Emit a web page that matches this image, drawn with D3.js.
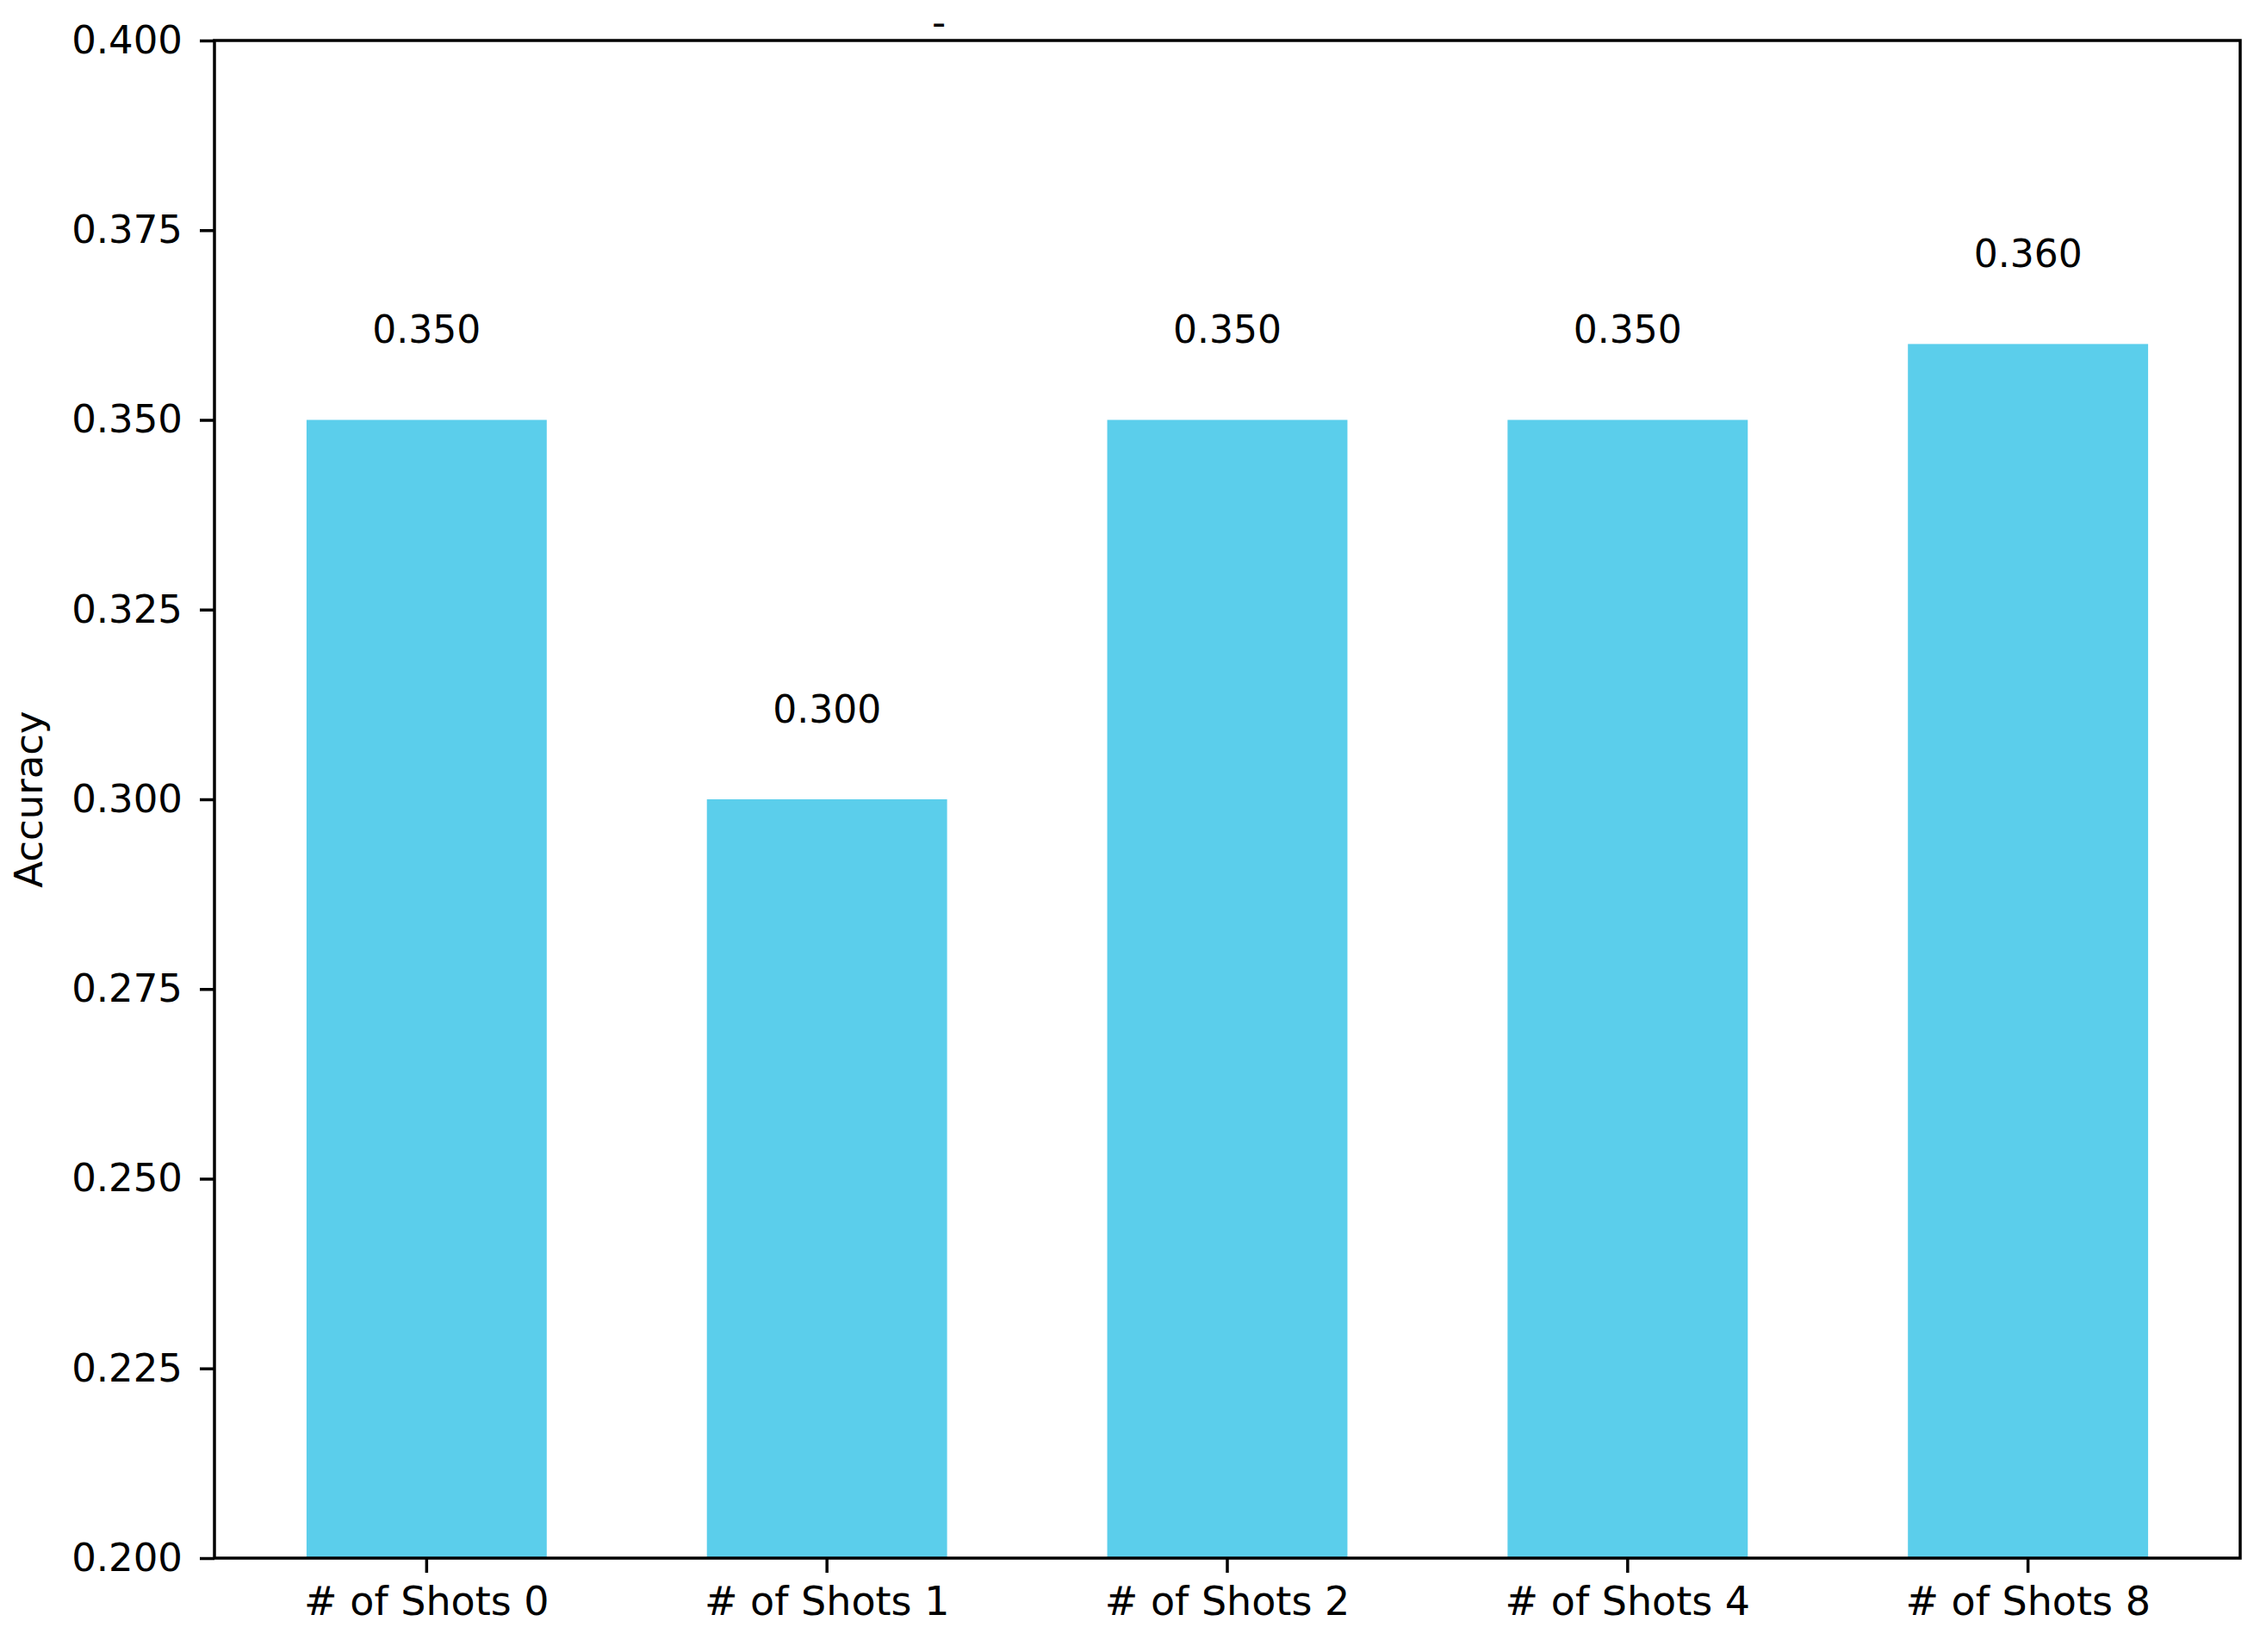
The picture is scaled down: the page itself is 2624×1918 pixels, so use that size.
<!DOCTYPE html>
<html>
<head>
<meta charset="utf-8">
<script src="https://cdn.jsdelivr.net/npm/d3@7"></script>
<style>
  html, body { margin: 0; padding: 0; background: #fff; }
  svg { display: block; font-family: "DejaVu Sans", sans-serif; }
</style>
</head>
<body>
<svg id="chart" width="2624" height="1918"></svg>
<script>
const categories = ["# of Shots 0", "# of Shots 1", "# of Shots 2", "# of Shots 4", "# of Shots 8"];
const accuracy = [0.350, 0.300, 0.350, 0.350, 0.360];
const yTicks = [0.200, 0.225, 0.250, 0.275, 0.300, 0.325, 0.350, 0.375, 0.400];
const yDomain = [0.2, 0.4];
const yLabel = "Accuracy";
const titleText = "-";

(function () {
const svg = d3.select("#chart");
const mLeft = 249, mRight = 2601, mTop = 47, mBottom = 1809;
const fontSize = 45;

const x = d3.scaleBand().domain(categories).range([mLeft, mRight]).paddingInner(0.4).paddingOuter(0.23);
const y = d3.scaleLinear().domain(yDomain).range([mBottom, mTop]);

// bars
svg.append("g").selectAll("rect").data(categories).join("rect")
  .attr("x", d => x(d))
  .attr("width", x.bandwidth())
  .attr("y", (d, i) => y(accuracy[i]))
  .attr("height", (d, i) => y(yDomain[0]) - y(accuracy[i]))
  .attr("fill", "#5bceeb");

// value labels
svg.append("g").selectAll("text").data(categories).join("text")
  .attr("x", d => x(d) + x.bandwidth() / 2)
  .attr("y", (d, i) => y(accuracy[i] + 0.01) - 1)
  .attr("text-anchor", "middle")
  .attr("font-size", 44)
  .attr("fill", "#000")
  .text((d, i) => d3.format(".3f")(accuracy[i]));

// axes
const yAxis = d3.axisLeft(y).tickValues(yTicks).tickFormat(d3.format(".3f")).tickSize(17).tickPadding(20);
const gy = svg.append("g").attr("transform", `translate(${mLeft},0)`).call(yAxis);
gy.select(".domain").remove();
gy.selectAll("line").attr("stroke", "#000").attr("stroke-width", 3.5);
gy.selectAll("text").attr("font-size", fontSize).attr("fill", "#000").attr("font-family", "DejaVu Sans");

const xAxis = d3.axisBottom(x).tickSize(17).tickPadding(16);
const gx = svg.append("g").attr("transform", `translate(0,${mBottom})`).call(xAxis);
gx.select(".domain").remove();
gx.selectAll("line").attr("stroke", "#000").attr("stroke-width", 3.5);
gx.selectAll("text").attr("font-size", 46).attr("fill", "#000").attr("font-family", "DejaVu Sans");

// frame
svg.append("rect")
  .attr("x", mLeft).attr("y", mTop)
  .attr("width", mRight - mLeft).attr("height", mBottom - mTop)
  .attr("fill", "none").attr("stroke", "#000").attr("stroke-width", 3.5);

// y label
svg.append("text")
  .attr("transform", `translate(${49},${(mTop + mBottom) / 2}) rotate(-90)`)
  .attr("text-anchor", "middle")
  .attr("font-size", fontSize)
  .attr("fill", "#000")
  .text(yLabel);

// title
svg.append("text")
  .attr("x", 1090).attr("y", 41)
  .attr("text-anchor", "middle")
  .attr("font-size", fontSize)
  .attr("fill", "#000")
  .text(titleText);
})();
</script>
</body>
</html>
